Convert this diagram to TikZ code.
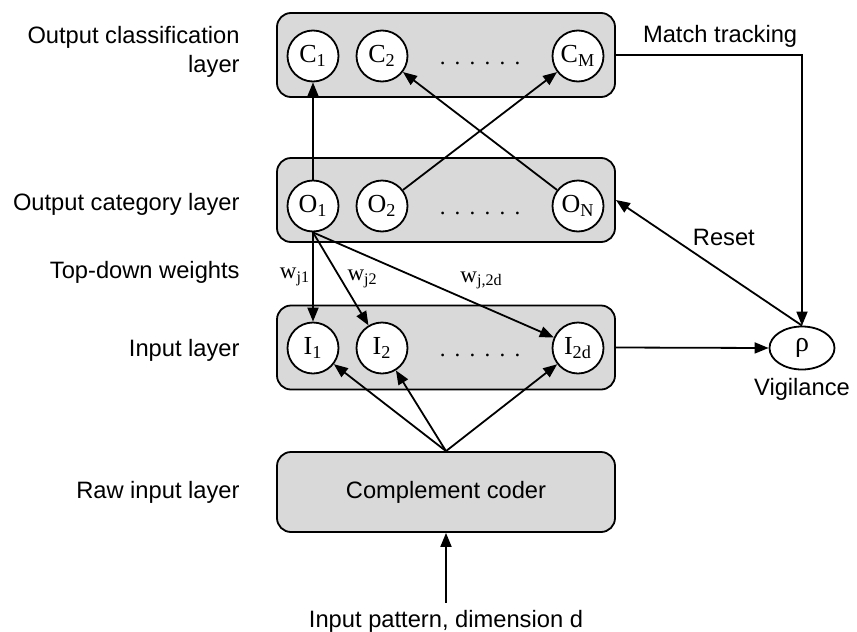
\documentclass[tikz,border=0pt]{standalone}
\usepackage{fontspec}
\setmainfont{Liberation Sans}
\newfontfamily\timesfont{Liberation Serif}
\usetikzlibrary{positioning, arrows.meta, shapes.geometric}
\newcommand{\rowdots}{.\hspace{4.6pt}.\hspace{4.6pt}.\hspace{4.6pt}.\hspace{4.6pt}.\hspace{4.6pt}.}
\tikzset{
	>={Triangle[length=7pt,width=5.5pt]}, % filled arrow heads
	every node/.style={font=\fontsize{11.85}{14.5}\selectfont}, % sans labels
	layer/.style={draw, line width=0.9pt, rounded corners=7pt, fill=gray!30, minimum width=169pt, minimum height=42pt}, % grey layer boxes
	neuron/.style={circle, draw, line width=0.9pt, fill=white, minimum size=25.5pt, inner sep=0pt, font=\timesfont\fontsize{13}{14}\selectfont}, % one unit of a layer
	wire/.style={->, line width=0.9pt}, % connections
	sidelabel/.style={anchor=east, align=right, inner sep=0pt}, % names of the layers
	wlabel/.style={font=\timesfont\fontsize{11.5}{13}\selectfont, inner sep=1pt}, % weights
}
\begin{document}
\begin{tikzpicture}[x=0.5pt, y=-0.5pt, node distance=34.5pt]
		\useasboundingbox (0,0) rectangle (857,632);

		% layer boxes
		\node[layer] (outbox) at (446,55) {};
		\node[layer] (catbox) at (446,200) {};
		\node[layer] (inbox) at (446,347.5) {};
		\node[layer, minimum height=40pt] (coder) at (446,492) {Complement coder};

		% output classification layer
		\node[neuron] (C1) at (313,56) {C\textsubscript{1}};
		\node[neuron, right of=C1] (C2) {C\textsubscript{2}};
		\node[neuron] (CM) at (578,56) {C\textsubscript{M}};
		\node[anchor=base, font=\timesfont\fontsize{11.5}{13}\selectfont] (cdots) at (480,64) {\rowdots};

		% output category layer
		\node[neuron] (O1) at (313,206) {O\textsubscript{1}};
		\node[neuron, right of=O1] (O2) {O\textsubscript{2}};
		\node[neuron] (ON) at (578,206) {O\textsubscript{N}};
		\node[anchor=base, font=\timesfont\fontsize{11.5}{13}\selectfont] (odots) at (480,214) {\rowdots};

		% input layer
		\node[neuron] (I1) at (313,348) {I\textsubscript{1}};
		\node[neuron, right of=I1] (I2) {I\textsubscript{2}};
		\node[neuron] (I2d) at (578,348) {I\textsubscript{2d}};
		\node[anchor=base, font=\timesfont\fontsize{11.5}{13}\selectfont] (idots) at (480,356) {\rowdots};

		% vigilance
		\node[ellipse, draw, line width=0.9pt, minimum width=32.5pt, minimum height=21.5pt, inner sep=0pt, font=\timesfont\fontsize{14}{15}\selectfont] (rho) at (802,348) {ρ};
		\node[below=4pt of rho, inner sep=0pt] (vig) {Vigilance};
		\node[anchor=base] (inpat) at (446,627) {Input pattern, dimension d};

		% layer names
		\node[sidelabel] (lcls) at (240,52) {Output classification\\layer};
		\node[sidelabel] (lcat) at (240,204) {Output category layer};
		\node[sidelabel] (ltop) at (240,272) {Top-down weights};
		\node[sidelabel] (linp) at (240,350) {Input layer};
		\node[sidelabel] (lraw) at (240,492) {Raw input layer};

		% connections
		\draw[wire] (O1) -- (C1);
		\draw[wire] (O2) -- (CM);
		\draw[wire] (ON) -- (C2);
		\draw[wire] (O1.south) -- node[wlabel, left] {w\textsubscript{j1}} (I1);
		\draw[wire] (O1.south) -- node[wlabel, right=2pt, pos=0.5] {w\textsubscript{j2}} (I2);
		\draw[wire] (O1.south) -- node[wlabel, above=7pt, pos=0.7] {w\textsubscript{j,2d}} (I2d);
		\foreach \n in {I1,I2,I2d}
		{
			\draw[wire] (coder.north) -- (\n);
		}
		\draw[wire] (inpat.north) -- (coder.south);
		\draw[wire] (outbox.east) -| node[above, pos=0.28] {Match tracking} (rho.north);
		\draw[wire] (rho.north) -- node[above=10pt, pos=0.42] {Reset} (catbox.east);
		\draw[wire] (inbox.east) -- (rho.west);
	\end{tikzpicture}
\end{document}
